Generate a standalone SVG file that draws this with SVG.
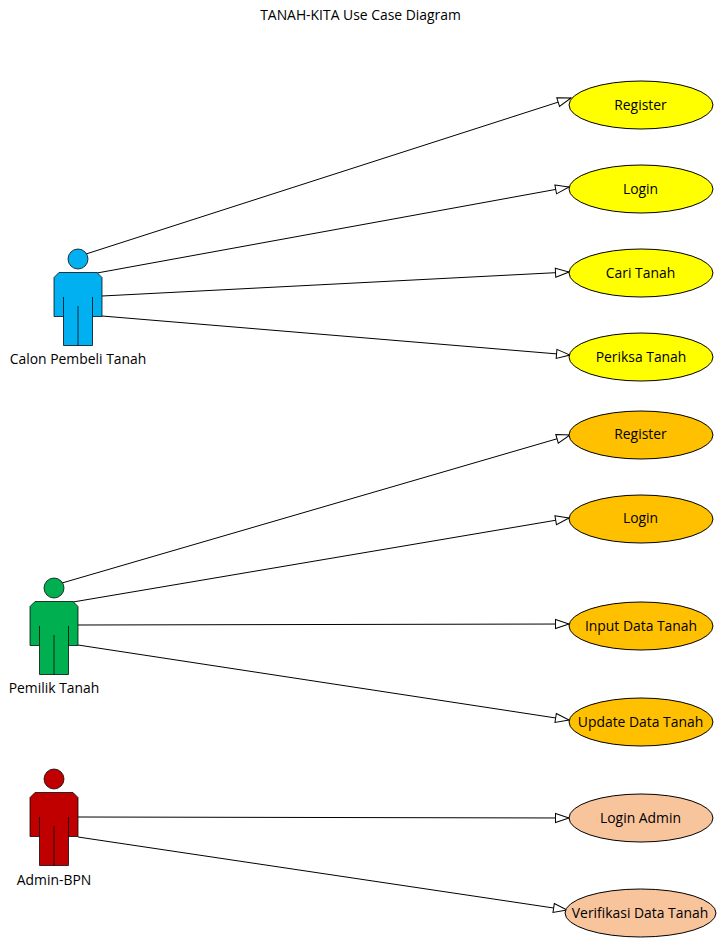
<svg xmlns="http://www.w3.org/2000/svg" width="718" height="939" viewBox="0 0 718 939">
<style>
text{font-family:"Open Sans","Noto Sans","Liberation Sans",sans-serif;font-size:13.9px;fill:#000;text-anchor:middle}
.e{stroke:#000;stroke-width:1}
.y{fill:#ffff00}.o{fill:#ffc000}.p{fill:#f8c49c}
.c line{stroke:#000;stroke-width:1;fill:none;marker-end:url(#a)}
.s{stroke:#000;stroke-width:1;stroke-opacity:.75}
</style>
<defs>
<marker id="a" markerUnits="userSpaceOnUse" markerWidth="16" markerHeight="12" refX="14" refY="5" orient="auto" overflow="visible"><path d="M0.5 0.5L14 5L0.5 9.5Z" fill="#fff" stroke="#000"/></marker>
<g id="actor"><circle cx="24" cy="10" r="10"/><path d="M5 23.500H43L48 28.500V67.500H38.500V96.500H9.500V67.500H0V28.500Z"/><path d="M9.500 48V67.500M38.500 48V67.500M24 57V96.500" fill="none"/></g>
</defs>
<rect width="718" height="939" fill="#fff"/>
<text id="title" x="360.500" y="20">TANAH-KITA Use Case Diagram</text>
<g id="connectors" class="c">
<line x1="86" y1="254" x2="571" y2="98"/>
<line x1="97" y1="273" x2="569" y2="187"/>
<line x1="102" y1="296" x2="569" y2="272"/>
<line x1="102" y1="316" x2="570" y2="355"/>
<line x1="62" y1="583" x2="570" y2="435"/>
<line x1="73" y1="602" x2="569" y2="518"/>
<line x1="78" y1="625" x2="569" y2="624"/>
<line x1="78" y1="645" x2="569" y2="720"/>
<line x1="78" y1="817" x2="569" y2="818"/>
<line x1="78" y1="837" x2="567" y2="910"/>
</g>
<g id="actor-calon"><use href="#actor" x="54" y="249" fill="#00b0f0" class="s"/><text x="78" y="364">Calon Pembeli Tanah</text></g>
<g id="actor-pemilik"><use href="#actor" x="30" y="578" fill="#00b050" class="s"/><text x="54" y="693">Pemilik Tanah</text></g>
<g id="actor-admin"><use href="#actor" x="30" y="769" fill="#c00000" class="s"/><text x="54" y="885">Admin-BPN</text></g>
<g id="uc-register-1"><ellipse class="e y" cx="641" cy="105" rx="72" ry="24"/><text x="640.500" y="110">Register</text></g>
<g id="uc-login-1"><ellipse class="e y" cx="641" cy="189" rx="72" ry="24"/><text x="640.500" y="194">Login</text></g>
<g id="uc-cari"><ellipse class="e y" cx="641" cy="273" rx="72" ry="24"/><text x="640.500" y="278">Cari Tanah</text></g>
<g id="uc-periksa"><ellipse class="e y" cx="641" cy="357" rx="72" ry="24"/><text x="641" y="362">Periksa Tanah</text></g>
<g id="uc-register-2"><ellipse class="e o" cx="641" cy="435" rx="72" ry="24"/><text x="640.500" y="439">Register</text></g>
<g id="uc-login-2"><ellipse class="e o" cx="641" cy="519" rx="72" ry="24"/><text x="640.500" y="523">Login</text></g>
<g id="uc-input"><ellipse class="e o" cx="641" cy="626" rx="72" ry="24"/><text x="641" y="631">Input Data Tanah</text></g>
<g id="uc-update"><ellipse class="e o" cx="641" cy="722" rx="72" ry="24"/><text x="640.500" y="727">Update Data Tanah</text></g>
<g id="uc-login-admin"><ellipse class="e p" cx="641" cy="818" rx="72" ry="24"/><text x="640.500" y="823">Login Admin</text></g>
<g id="uc-verifikasi"><ellipse class="e p" cx="640.500" cy="913" rx="75.500" ry="24"/><text x="640" y="918">Verifikasi Data Tanah</text></g>
</svg>
